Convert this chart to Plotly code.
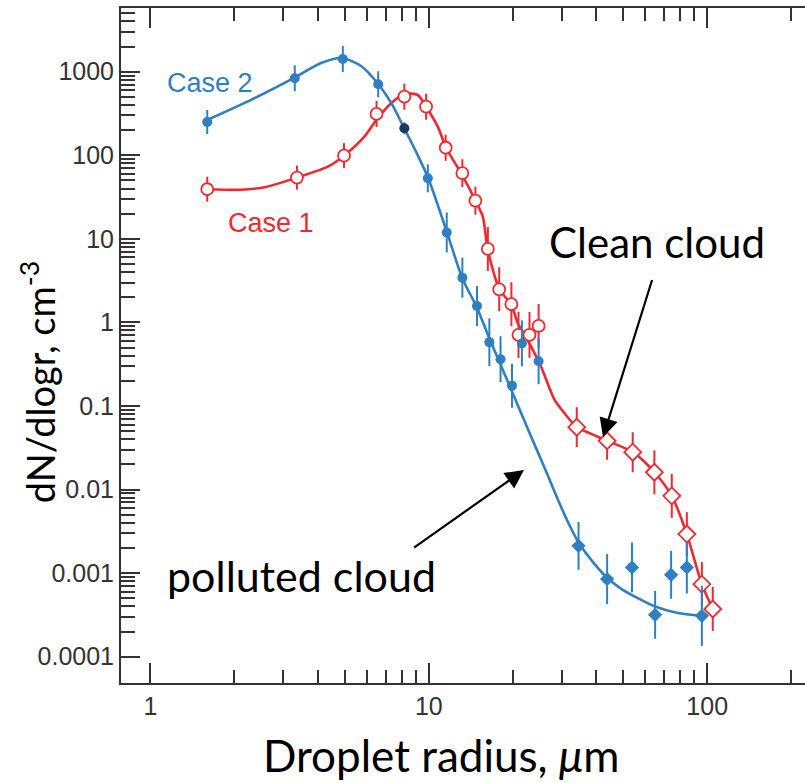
import numpy as np
import plotly.graph_objects as go

# ---------------- data ----------------
# Case 2 (polluted cloud) - measured points (filled circles / filled diamonds)
c2_r = [1.60, 3.30, 4.91, 6.58, 8.17, 9.92, 11.6, 13.2, 14.9, 16.5, 18.1, 19.9, 21.6, 24.8]
c2_n = [250, 834, 1419, 707, 210, 53, 11.9, 3.43, 1.57, 0.58, 0.363, 0.175, 0.56, 0.343]
c2_err = [0.144, 0.156, 0.156, 0.156, 0.072, 0.167, 0.239, 0.239, 0.239, 0.287, 0.275, 0.263, 0.275, 0.275]
c2d_r = [34.5, 43.7, 53.7, 65.0, 74.2, 84.5, 95.7]
c2d_n = [0.00212, 0.000848, 0.00117, 0.000317, 0.000955, 0.00117, 0.000308]
c2d_err = [0.287, 0.299, 0.299, 0.287, 0.287, 0.311, 0.359]

# Case 2 fitted curve
c2_fit_r = [1.60, 2.30, 3.28, 4.10, 4.88, 5.71, 6.58, 7.33, 8.15, 9.00, 9.95, 11.64, 13.17, 14.91,
            16.47, 18.18, 19.92, 21.82, 24.09, 26.6, 29.1, 31.7, 34.4, 38.3, 43.7, 49.1, 56.3,
            65.0, 78.4, 95.6]
c2_fit_n = [264, 459, 841, 1271, 1458, 1170, 713, 423, 212, 110, 53.5, 11.8, 3.43, 1.49,
            0.653, 0.302, 0.1475, 0.0721, 0.0333, 0.0154, 0.00753, 0.0040, 0.00237, 0.00144,
            0.000879, 0.000649, 0.000502, 0.000398, 0.000333, 0.000308]

# Case 1 (clean cloud) - measured points (open circles / open diamonds)
c1_r = [1.60, 3.36, 4.96, 6.49, 8.17, 9.78, 11.5, 13.2, 14.7, 16.3, 17.9, 19.8, 21.0, 23.0, 24.8]
c1_n = [39.2, 54, 98.9, 312, 502, 381, 123, 61, 28.6, 7.57, 2.49, 1.65, 0.708, 0.708, 0.908]
c1_err = [0.150, 0.144, 0.150, 0.156, 0.156, 0.156, 0.156, 0.167, 0.167, 0.263, 0.263, 0.263,
          0.275, 0.275, 0.263]
c1d_r = [34.0, 43.7, 54.0, 64.6, 74.6, 84.5, 95.7, 104.7]
c1d_n = [0.0557, 0.0383, 0.028, 0.0161, 0.0084, 0.00293, 0.000738, 0.000372]
c1d_err = [0.239, 0.227, 0.239, 0.263, 0.263, 0.263, 0.263, 0.263]

# Case 1 fitted curve
c1_fit_r = [1.60, 2.12, 2.60, 3.36, 4.34, 4.96, 5.87, 6.48, 7.32, 8.18, 9.13, 9.78, 10.77, 11.54,
            13.17, 14.71, 15.63, 16.29, 17.93, 19.75, 20.88, 23.31, 25.3, 28.3, 30.7, 34.0,
            38.3, 43.7, 54.1, 64.6, 74.6, 84.5, 95.6, 104.7]
c1_fit_n = [39.2, 38.6, 41.8, 54.0, 73.0, 98.9, 167, 264, 419, 541, 526, 381, 220, 123,
            58.1, 28.6, 18.4, 7.37, 2.49, 1.65, 0.978, 0.513, 0.296, 0.118, 0.082, 0.0557,
            0.0464, 0.0383, 0.028, 0.0161, 0.0084, 0.00293, 0.000738, 0.000372]

x_ticks = [1, 10, 100]
x_ticktext = ["1", "10", "100"]
y_ticks = [1e-4, 1e-3, 1e-2, 1e-1, 1, 10, 100, 1000]
y_ticktext = ["0.0001", "0.001", "0.01", "0.1", "1", "10", "100", "1000"]

RED = "#ee2a30"
BLUE = "#2f7fc3"
DARK = "#333333"


def log_err(vals, dec):
    v = np.asarray(vals, float)
    d = np.asarray(dec, float)
    return v * (10 ** d - 1), v * (1 - 10 ** (-d))


fig = go.Figure()

# curves
fig.add_trace(go.Scatter(x=c1_fit_r, y=c1_fit_n, mode="lines",
                         line=dict(color=RED, width=2.6, shape="spline", smoothing=0.7),
                         showlegend=False, hoverinfo="skip"))
fig.add_trace(go.Scatter(x=c2_fit_r, y=c2_fit_n, mode="lines",
                         line=dict(color=BLUE, width=2.6, shape="spline", smoothing=0.7),
                         showlegend=False, hoverinfo="skip"))


def add_pts(r, n, err, color, symbol, size, fill, lw, mcolors=None):
    p, m = log_err(n, err)
    fig.add_trace(go.Scatter(
        x=r, y=n, mode="markers",
        marker=dict(symbol=symbol, size=size, color=mcolors if mcolors else fill,
                    line=dict(color=color, width=lw)),
        error_y=dict(type="data", symmetric=False, array=p, arrayminus=m,
                     color=color, thickness=2, width=0),
        showlegend=False))


c2_colors = [BLUE] * len(c2_r)
c2_colors[4] = "#1d3a5c"
add_pts(c1_r, c1_n, c1_err, RED, "circle", 12, "white", 1.8)
add_pts(c1d_r, c1d_n, c1d_err, RED, "diamond", 13, "white", 1.8)
add_pts(c2_r, c2_n, c2_err, BLUE, "circle", 10, BLUE, 0, c2_colors)
add_pts(c2d_r, c2d_n, c2d_err, BLUE, "diamond", 11, BLUE, 0)

minor_x = [k * 10 ** e for e in range(0, 3) for k in range(2, 10)]
minor_y = [k * 10.0 ** e for e in range(-4, 4) for k in range(2, 10)]

tickfont = dict(family="Liberation Sans, Arial, sans-serif", size=25, color=DARK)

fig.update_layout(
    width=805, height=783,
    margin=dict(l=121, r=0, t=8, b=100),
    paper_bgcolor="white", plot_bgcolor="white",
    xaxis=dict(type="log", range=[-0.1056, 2.3513], tickmode="array",
               tickvals=x_ticks, ticktext=x_ticktext, ticks="inside", ticklen=20,
               tickwidth=1.6, tickcolor=DARK, showline=True, linecolor=DARK, linewidth=2,
               mirror="ticks", showgrid=False, zeroline=False, tickfont=tickfont,
               minor=dict(tickmode="array", tickvals=minor_x, ticks="inside", ticklen=13,
                          tickwidth=1.6, tickcolor=DARK, showgrid=False)),
    yaxis=dict(type="log", range=[-4.315, 3.762], tickmode="array",
               tickvals=y_ticks, ticktext=y_ticktext, ticks="inside", ticklen=19,
               tickwidth=1.6, tickcolor=DARK, showline=True, linecolor=DARK, linewidth=2,
               showgrid=False, zeroline=False, tickfont=tickfont,
               minor=dict(tickmode="array", tickvals=minor_y, ticks="inside", ticklen=14,
                          tickwidth=1.6, tickcolor=DARK, showgrid=False)),
    yaxis2=dict(type="log", range=[-4.315, 3.762], overlaying="y", side="right",
                tickmode="array", tickvals=y_ticks, ticks="inside", ticklen=8,
                tickwidth=1.6, tickcolor=DARK, showline=False, showgrid=False,
                showticklabels=False, zeroline=False,
                minor=dict(tickmode="array", tickvals=minor_y, ticks="inside", ticklen=3,
                           tickwidth=1.6, tickcolor=DARK, showgrid=False)),
)

big = dict(family="Lato, Carlito, sans-serif", color="black")

annos = [
    dict(text="Case 2", x=0.1308, y=0.8896, font=dict(family="Liberation Sans, Arial", size=27, color=BLUE)),
    dict(text="Case 1", x=0.2193, y=0.6815, font=dict(family="Liberation Sans, Arial", size=27, color=RED)),
    dict(text="Clean cloud", x=0.7836, y=0.6526, font=dict(size=42, **big)),
    dict(text="polluted cloud", x=0.2632, y=0.1593, font=dict(size=43, **big)),
    dict(text="Droplet radius, <i>μ</i>m", x=0.4678, y=-0.1067, font=dict(size=44, **big)),
    dict(text="dN/dlogr, cm<sup>-3</sup>", x=-0.122, y=0.445, textangle=-90, font=dict(size=38, **big)),
]
for a in annos:
    fig.add_annotation(xref="paper", yref="paper", showarrow=False,
                       xanchor="center", yanchor="middle", **a)

# arrows
fig.add_annotation(xref="paper", yref="paper", x=0.7047, y=0.3644, ax=50, ay=-160,
                   axref="pixel", ayref="pixel", text=" ", showarrow=True,
                   arrowhead=2, arrowsize=1.7, arrowwidth=2.2, arrowcolor="black",
                   font=dict(size=2))
fig.add_annotation(xref="paper", yref="paper", x=0.5892, y=0.3156, ax=-112, ay=79,
                   axref="pixel", ayref="pixel", text=" ", showarrow=True,
                   arrowhead=2, arrowsize=1.7, arrowwidth=2.2, arrowcolor="black",
                   font=dict(size=2))

fig.write_html("out.html")
